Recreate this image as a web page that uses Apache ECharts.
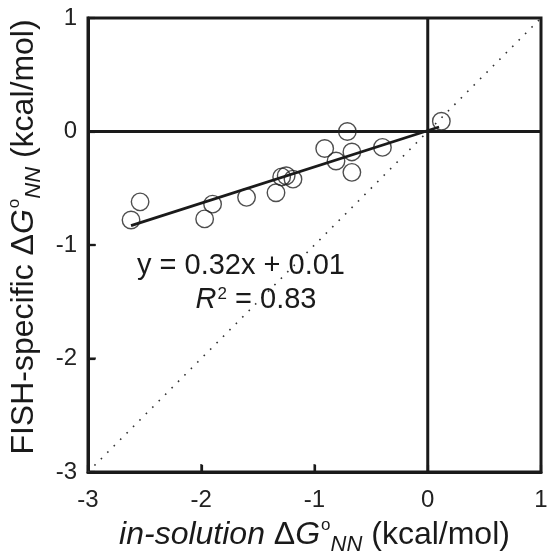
<!DOCTYPE html>
<html>
<head>
<meta charset="utf-8">
<script src="https://cdn.jsdelivr.net/npm/echarts@6/dist/echarts.min.js"></script>
<style>html,body{margin:0;padding:0;background:#fff;}#c{width:547px;height:559px;}</style>
</head>
<body>
<div id="c"></div>
<script>
// Data
const pointX = [-2.62, -2.54, -1.97, -1.90, -1.60, -1.34, -1.29, -1.25, -1.19, -0.91, -0.81, -0.71, -0.67, -0.67, -0.40, 0.12];
const pointY = [-0.78, -0.62, -0.77, -0.64, -0.58, -0.54, -0.40, -0.39, -0.42, -0.15, -0.26, 0.00, -0.18, -0.36, -0.14, 0.09];
const fitX = [-2.62, 0.10];
const fitY = [-0.83, 0.04];
const diagX = [-3, 1];
const diagY = [-3, 1];
const axisTicks = [-3, -2, -1, 0, 1];
const innerTicks = [-2, -1];
const eqText = 'y = 0.32x + 0.01';
const r2Value = '0.83';

const FONT = '"Liberation Sans", Arial, Helvetica, sans-serif';
const INK = '#1a1a1a';

const pts = pointX.map((x, i) => [x, pointY[i]]);
const fit = fitX.map((x, i) => [x, fitY[i]]);
const diag = diagX.map((x, i) => [x, diagY[i]]);
const xMin = axisTicks[0], xMax = axisTicks[axisTicks.length - 1];

const nameRich = {
  it: { fontFamily: FONT, fontSize: 32, fontStyle: 'italic', color: INK, lineHeight: 44 },
  n: { fontFamily: FONT, fontSize: 32, color: INK, lineHeight: 44 },
  sup: { fontFamily: FONT, fontSize: 17, color: INK, verticalAlign: 'middle', padding: [0, 0, 19, 1] },
  sub: { fontFamily: FONT, fontSize: 22, fontStyle: 'italic', color: INK, verticalAlign: 'middle', padding: [19, 0, 0, 0] }
};

const axisLineStyle = { show: true, onZero: false, lineStyle: { color: INK, width: 3 } };
const tickStyle = { show: true, inside: true, length: 7, lineStyle: { color: INK, width: 2.2 } };

const chart = echarts.init(document.getElementById('c'), null, { renderer: 'canvas' });
chart.setOption({
  animation: false,
  backgroundColor: '#fff',
  grid: { left: 88, right: 6, top: 18, bottom: 87, outerBoundsMode: 'none', containLabel: false,
          show: true, borderColor: INK, borderWidth: 3, backgroundColor: 'transparent' },
  xAxis: {
    type: 'value', min: xMin, max: xMax, interval: 1,
    axisLine: axisLineStyle,
    axisTick: tickStyle,
    splitLine: { show: false },
    axisLabel: { fontFamily: FONT, fontSize: 24, color: '#222', margin: 16 },
    name: '{it|in-solution }{n|Δ}{it|G}{sup|o}{sub|NN}{n| (kcal/mol)}',
    nameLocation: 'middle', nameGap: 36,
    nameTextStyle: { rich: nameRich }
  },
  yAxis: {
    type: 'value', min: xMin, max: xMax, interval: 1,
    axisLine: axisLineStyle,
    axisTick: tickStyle,
    splitLine: { show: false },
    axisLabel: { fontFamily: FONT, fontSize: 24, color: '#222', margin: 11 },
    name: '{n|FISH-specific Δ}{it|G}{sup|o}{sub|NN}{n| (kcal/mol)}',
    nameLocation: 'middle', nameGap: 40, nameRotate: 90,
    nameTextStyle: { rich: nameRich, padding: [0, 0, 0, 16] }
  },
  series: [
    { type: 'line', data: diag, showSymbol: false, silent: true,
      lineStyle: { color: '#333', width: 1.6, type: [1.6, 7.5] }, z: 1 },
    { type: 'line', data: [[xMin, 0], [xMax, 0]], showSymbol: false, silent: true,
      lineStyle: { color: INK, width: 3 }, z: 2 },
    { type: 'line', data: [[0, xMin], [0, xMax]], showSymbol: false, silent: true,
      lineStyle: { color: INK, width: 3 }, z: 2 },
    // inward tick marks on the bottom and left frame
    { type: 'scatter', data: innerTicks.map(t => [t, xMin]), symbol: 'rect', symbolSize: [2.2, 8],
      symbolOffset: [0, -4], itemStyle: { color: INK }, silent: true, z: 5 },
    { type: 'scatter', data: innerTicks.map(t => [xMin, t]), symbol: 'rect', symbolSize: [8, 2.2],
      symbolOffset: [4, 0], itemStyle: { color: INK }, silent: true, z: 5 },
    { type: 'scatter', data: pts, symbol: 'circle', symbolSize: 17.5,
      itemStyle: { color: 'rgba(255,255,255,0)', borderColor: '#222', borderWidth: 1.4 }, z: 3 },
    { type: 'line', data: fit, showSymbol: false, silent: true,
      lineStyle: { color: INK, width: 2.8 }, z: 4 }
  ],
  graphic: [
    { type: 'text', x: 241, y: 266, z: 10,
      style: { text: eqText, fontFamily: FONT, fontSize: 29, fill: INK, align: 'center', verticalAlign: 'middle' } },
    { type: 'text', x: 256, y: 300, z: 10,
      style: {
        align: 'center', verticalAlign: 'middle',
        text: '{r|R}{s|2}{v| = ' + r2Value + '}',
        rich: {
          r: { fontFamily: FONT, fontSize: 29, fontStyle: 'italic', fill: INK, lineHeight: 36 },
          s: { fontFamily: FONT, fontSize: 17, fill: INK, verticalAlign: 'middle', padding: [0, 0, 12, 1] },
          v: { fontFamily: FONT, fontSize: 29, fill: INK, lineHeight: 36 }
        }
      } }
  ]
});
</script>
</body>
</html>
